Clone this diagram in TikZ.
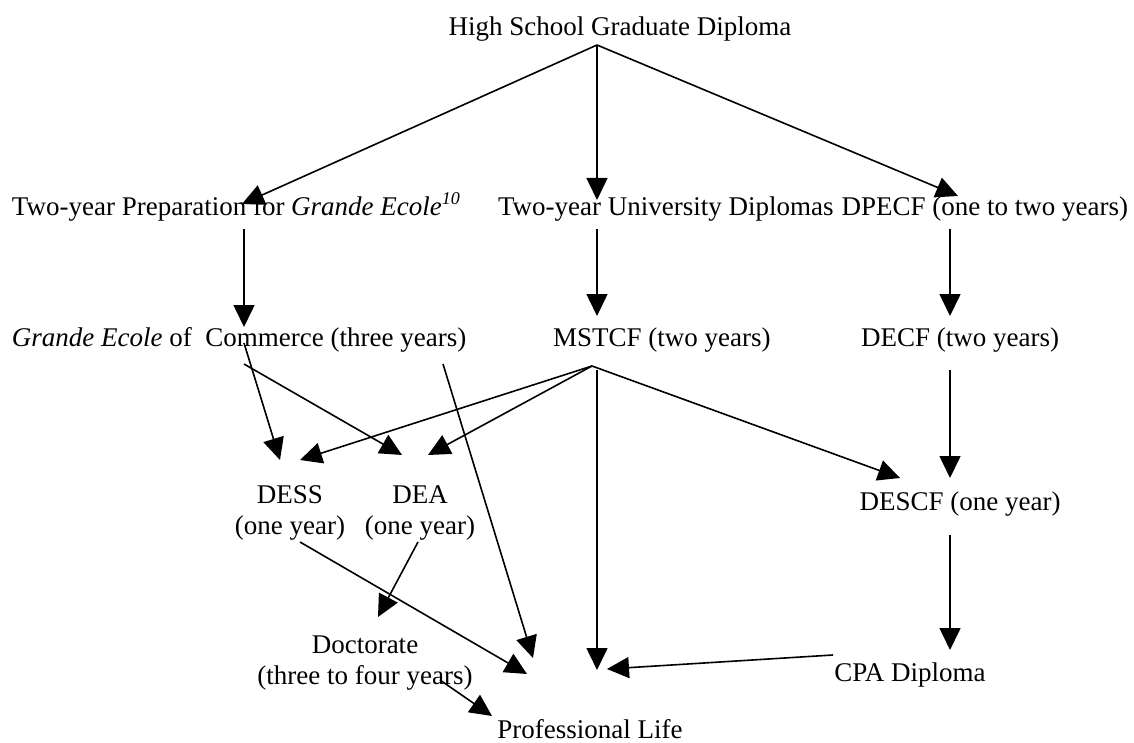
\documentclass[tikz,border=0pt]{standalone}
\usepackage{fontspec}
\setmainfont{Liberation Serif}
\usetikzlibrary{arrows.meta,calc}
\tikzset{
  lbl/.style={inner sep=0pt, outer sep=0pt, font=\fontsize{27}{31}\selectfont},
  arr/.style={line width=1.6pt, -{Triangle[length=22pt,width=21pt]}}
}
\newcommand{\supten}{\raisebox{11pt}{\fontsize{18}{18}\selectfont\textit{10}}}
\begin{document}
\begin{tikzpicture}[x=1pt,y=-1pt]
\fill[white] (0,0) rectangle (1134,743);
\useasboundingbox (0,0) rectangle (1134,743);
% nodes
\node[lbl,anchor=base] (title) at (620,36) {High School Graduate Diploma};
\node[lbl,anchor=base west] (prep) at (12,216) {Two-year Preparation for \textit{Grande Ecole}\supten};
\node[lbl,anchor=base west] (univ) at (498,216) {Two-year University Diplomas};
\node[lbl,anchor=base east] (dpecf) at (1128,216) {DPECF (one to two years)};
\node[lbl,anchor=base west] (gec) at (12,346) {\textit{Grande Ecole} of\ \ Commerce (three years)};
\node[lbl,anchor=base west] (mstcf) at (553,346) {MSTCF (two years)};
\node[lbl,anchor=base] (decf) at (960,346) {DECF (two years)};
\node[lbl,anchor=base] (dess) at (290,503) {\begin{tabular}[t]{@{}c@{}}DESS\\(one year)\end{tabular}};
\node[lbl,anchor=base] (dea) at (420,503) {\begin{tabular}[t]{@{}c@{}}DEA\\(one year)\end{tabular}};
\node[lbl,anchor=base] (descf) at (960,510) {DESCF (one year)};
\node[lbl,anchor=base] (doct) at (365,653) {\begin{tabular}[t]{@{}c@{}}Doctorate\\(three to four years)\end{tabular}};
\node[lbl,anchor=base] (cpa) at (910,681) {CPA Diploma};
\node[lbl,anchor=base] (prof) at (590,738) {Professional Life};
% connectors
\draw[arr] ($(title.base)+(-23,9)$) -- ($(prep.base west)+(230,-12)$);
\draw[arr] ($(title.base)+(-23,9)$) -- ($(univ.base west)+(99,-16)$);
\draw[arr] ($(title.base)+(-23,9)$) -- ($(dpecf.base east)+(-170,-20)$);
\draw[arr] ($(prep.base west)+(232,13)$) -- ($(gec.base west)+(232,-19)$);
\draw[arr] ($(univ.base west)+(99,13)$) -- ($(mstcf.base west)+(44,-30)$);
\draw[arr] ($(dpecf.base east)+(-178,13)$) -- ($(decf.base)+(-10,-30)$);
\draw[arr] ($(gec.base west)+(232,-3)$) -- ($(dess.base)+(-10,-43)$);
\draw[arr] ($(gec.base west)+(232,18)$) -- ($(dea.base)+(-18,-48)$);
\draw[arr] ($(gec.base west)+(431,18)$) -- ($(prof.base)+(-57,-80)$);
\draw[arr] ($(mstcf.base west)+(39,20)$) -- ($(dess.base)+(10,-43)$);
\draw[arr] ($(mstcf.base west)+(39,20)$) -- ($(dea.base)+(8,-48)$);
\draw[arr] ($(mstcf.base west)+(44,24)$) -- ($(prof.base)+(7,-68)$);
\draw[arr] ($(mstcf.base west)+(39,20)$) -- ($(descf.base)+(-60,-32)$);
\draw[arr] ($(decf.base)+(-10,24)$) -- ($(descf.base)+(-10,-32)$);
\draw[arr] ($(descf.base)+(-10,25)$) -- ($(cpa.base)+(40,-31)$);
\draw[arr] ($(cpa.base)+(-77,-26)$) -- ($(prof.base)+(17,-69)$);
\draw[arr] ($(dess.base)+(10,39)$) -- ($(prof.base)+(-63,-64)$);
\draw[arr] ($(dea.base)+(-2,39)$) -- ($(doct.base)+(13,-36)$);
\draw[arr] ($(doct.base)+(75,27)$) -- ($(prof.base)+(-98,-22)$);
\end{tikzpicture}
\end{document}
